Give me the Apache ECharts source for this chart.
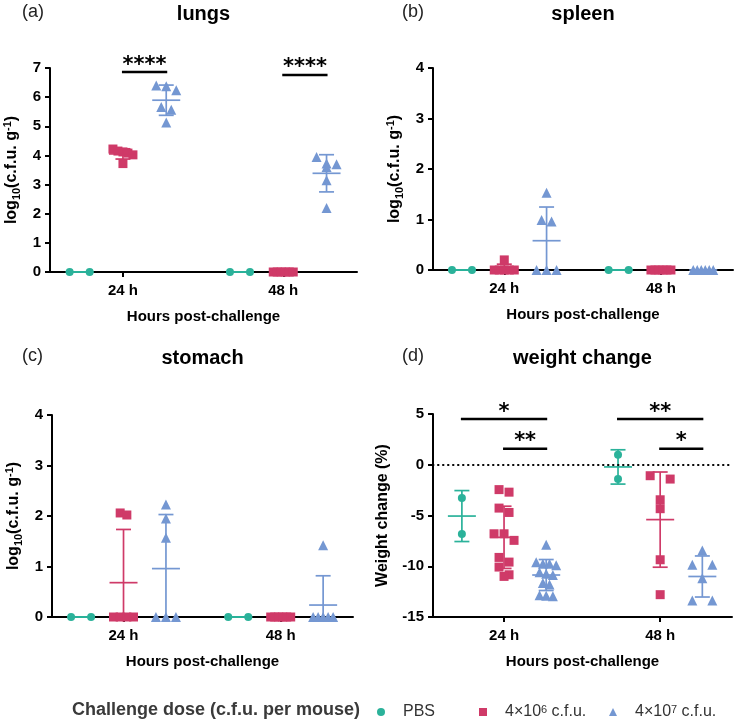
<!DOCTYPE html>
<html><head><meta charset="utf-8">
<script src="https://cdn.jsdelivr.net/npm/echarts@6/dist/echarts.min.js"></script>
<style>html,body{margin:0;padding:0;background:#fff}#c{width:735px;height:719px}</style>
</head><body><div id="c"></div>
<script>
// ---------- data ----------
const timePoints = ['24 h', '48 h'];
const groupNames = ['PBS', '4×10^6 c.f.u.', '4×10^7 c.f.u.'];

// lungs, log10(c.f.u. g-1)
const lungsPBS24 = [0, 0];
const lungsPBS48 = [0, 0];
const lungsLow24 = [4.22, 4.12, 4.08, 4.15, 4.02, 3.72];
const lungsLow48 = [0, 0, 0, 0, 0, 0];
const lungsHigh24 = [6.37, 6.40, 6.24, 5.66, 5.57, 5.13];
const lungsHigh48 = [3.95, 3.72, 3.70, 3.60, 3.15, 2.20];

// spleen
const spleenPBS24 = [0, 0];
const spleenPBS48 = [0, 0];
const spleenLow24 = [0.20, 0, 0, 0, 0, 0];
const spleenLow48 = [0, 0, 0, 0, 0, 0];
const spleenHigh24 = [1.53, 0.99, 0.96, 0, 0, 0];
const spleenHigh48 = [0, 0, 0, 0, 0, 0];

// stomach
const stomachPBS24 = [0, 0];
const stomachPBS48 = [0, 0];
const stomachLow24 = [2.02, 2.06, 0, 0, 0, 0];
const stomachLow48 = [0, 0, 0, 0, 0, 0];
const stomachHigh24 = [2.23, 1.95, 1.57, 0, 0, 0];
const stomachHigh48 = [1.42, 0, 0, 0, 0, 0];

// weight change (%)
const weightPBS24 = [-3.28, -6.83];
const weightPBS48 = [0.98, -1.41];
const weightLow24 = [-2.70, -2.45, -4.27, -4.70, -6.80, -6.80, -7.45, -9.13, -9.59, -10.08, -11.00, -10.84];
const weightLow48 = [-1.41, -1.08, -3.45, -4.33, -9.36, -12.80];
const weightHigh24 = [-7.88, -9.60, -9.75, -9.75, -9.90, -10.60, -10.75, -10.85, -11.65, -11.80, -12.85, -12.95, -12.90];
const weightHigh48 = [-8.44, -9.85, -9.85, -11.17, -13.37, -13.37];

// significance: [time index, from group, to group, bar level, label]
const lungsSig = [[0, 1, 2, 6.86, '****'], [1, 1, 2, 6.76, '****']];
const weightSig = [[0, 0, 2, 4.5, '*'], [0, 1, 2, 1.58, '**'], [1, 0, 2, 4.5, '**'], [1, 1, 2, 1.58, '*']];

// ---------- layout / style ----------
const colors = ['#2bb29a', '#cf3a68', '#7497d2'];
const symbols = ['circle', 'rect', 'triangle'];
const symSizes = [8, 9, 10];
const groupOffset = [-0.27, 0, 0.27];
const XMIN = 0.545, XMAX = 2.46;
const FONT = '"Liberation Sans", Arial, Helvetica, sans-serif';

const panels = [
  { key: 'lungs', title: 'lungs', letter: '(a)', grid: { left: 50, top: 68, width: 307, height: 204 },
    y: [0, 7, 1], yName: 'log', sig: lungsSig,
    data: [[lungsPBS24, lungsPBS48], [lungsLow24, lungsLow48], [lungsHigh24, lungsHigh48]] },
  { key: 'spleen', title: 'spleen', letter: '(b)', grid: { left: 433, top: 68, width: 300, height: 202 },
    y: [0, 4, 1], yName: 'log', sig: [],
    data: [[spleenPBS24, spleenPBS48], [spleenLow24, spleenLow48], [spleenHigh24, spleenHigh48]] },
  { key: 'stomach', title: 'stomach', letter: '(c)', grid: { left: 52, top: 415, width: 301, height: 202 },
    y: [0, 4, 1], yName: 'log', sig: [],
    data: [[stomachPBS24, stomachPBS48], [stomachLow24, stomachLow48], [stomachHigh24, stomachHigh48]] },
  { key: 'weight', title: 'weight change', letter: '(d)', grid: { left: 433, top: 414, width: 299, height: 203 },
    y: [-15, 5, 5], yName: 'weight', sig: weightSig,
    data: [[weightPBS24, weightPBS48], [weightLow24, weightLow48], [weightHigh24, weightHigh48]] }
];

function swarm(vals, cx, pyu, pxu) {
  const sorted = vals.slice().sort((a, b) => b - a);
  const rows = []; let cur = null;
  for (const v of sorted) {
    if (cur && (cur[0] - v) * pyu < 8.5) cur.push(v);
    else { cur = [v]; rows.push(cur); }
  }
  const maxK = Math.max(...rows.map(r => r.length));
  const d = maxK > 1 ? 20 / (maxK - 1) : 0;
  const pts = [];
  rows.forEach(r => r.forEach((v, i) => pts.push([cx + (i - (r.length - 1) / 2) * d / pxu, v])));
  return pts;
}
function meanSd(vals) {
  const n = vals.length; const m = vals.reduce((a, b) => a + b, 0) / n;
  const sd = n > 1 ? Math.sqrt(vals.reduce((a, b) => a + (b - m) * (b - m), 0) / (n - 1)) : 0;
  return [m, sd];
}

const axisLineStyle = { color: '#000', width: 2 };
const grids = [], xAxes = [], yAxes = [], series = [], graphics = [];

const logName = '{b|log}{s|10}{b|(c.f.u. g}{p|-1}{b|)}';
const nameRich = {
  b: { fontSize: 16, fontWeight: 'bold', fontFamily: FONT, color: '#000', lineHeight: 20 },
  s: { fontSize: 11, fontWeight: 'bold', fontFamily: FONT, color: '#000', lineHeight: 20, verticalAlign: 'bottom' },
  p: { fontSize: 11, fontWeight: 'bold', fontFamily: FONT, color: '#000', lineHeight: 20, verticalAlign: 'top' }
};

panels.forEach((p, pi) => {
  grids.push(p.grid);
  const pxu = p.grid.width / (XMAX - XMIN);
  const pyu = p.grid.height / (p.y[1] - p.y[0]);
  const yLo = p.y[0], yHi = p.y[1];
  xAxes.push({
    gridIndex: pi, type: 'value', min: XMIN, max: XMAX,
    name: 'Hours post-challenge', nameLocation: 'middle', nameGap: 37,
    nameTextStyle: { fontSize: 15, fontWeight: 'bold', fontFamily: FONT, color: '#000' },
    axisLine: { onZero: false, lineStyle: axisLineStyle },
    axisTick: { customValues: [1, 2], length: 5, lineStyle: { color: '#000', width: 2 } },
    axisLabel: { customValues: [1, 2], margin: 11, fontSize: 15, fontWeight: 'bold', fontFamily: FONT, color: '#000',
      formatter: v => timePoints[Math.round(v) - 1] },
    splitLine: { show: false }
  });
  yAxes.push({
    gridIndex: pi, type: 'value', min: p.y[0], max: p.y[1], interval: p.y[2],
    name: p.yName === 'log' ? logName : 'Weight change (%)', nameLocation: 'middle',
    nameGap: p.yName === 'log' ? 28 : 42,
    nameTextStyle: { fontSize: 16, fontWeight: 'bold', fontFamily: FONT, color: '#000', rich: nameRich },
    axisLine: { show: true, onZero: false, lineStyle: axisLineStyle },
    axisTick: { show: true, length: 5, lineStyle: { color: '#000', width: 2 } },
    axisLabel: { margin: 9, fontSize: 15, fontWeight: 'bold', fontFamily: FONT, color: '#000' },
    splitLine: { show: false }
  });
  p.data.forEach((byTime, gi) => {
    let pts = [];
    const errs = [];
    byTime.forEach((vals, ti) => {
      const cx = ti + 1 + groupOffset[gi];
      pts = pts.concat(swarm(vals, cx, pyu, pxu));
      const ms = meanSd(vals);
      errs.push([cx, ms[0], ms[1]]);
    });
    series.push({
      type: 'scatter', name: groupNames[gi], xAxisIndex: pi, yAxisIndex: pi,
      symbol: symbols[gi], symbolSize: symSizes[gi], data: pts, clip: false,
      itemStyle: { color: colors[gi], opacity: 1 }, z: 2, silent: true
    });
    series.push({
      type: 'custom', name: groupNames[gi], xAxisIndex: pi, yAxisIndex: pi, data: errs, z: 3, silent: true,
      itemStyle: { color: colors[gi] }, encode: { x: 0, y: 1 },
      renderItem: (params, api) => {
        const x = api.value(0), m = api.value(1), s = api.value(2);
        const lo = Math.max(m - s, yLo), hi = Math.min(m + s, yHi);
        const c = api.coord([x, m]), t = api.coord([x, hi]), b = api.coord([x, lo]);
        const st = { stroke: colors[gi], lineWidth: 1.7 };
        const kids = [
          { type: 'line', shape: { x1: c[0] - 14, y1: c[1], x2: c[0] + 14, y2: c[1] }, style: st },
          { type: 'line', shape: { x1: t[0], y1: t[1], x2: b[0], y2: b[1] }, style: st },
          { type: 'line', shape: { x1: t[0] - 7.5, y1: t[1], x2: t[0] + 7.5, y2: t[1] }, style: st }
        ];
        if (m - s >= yLo) kids.push({ type: 'line', shape: { x1: b[0] - 7.5, y1: b[1], x2: b[0] + 7.5, y2: b[1] }, style: st });
        return { type: 'group', children: kids };
      }
    });
  });
  if (p.key === 'weight') {
    series.push({
      type: 'line', xAxisIndex: pi, yAxisIndex: pi, data: [], silent: true,
      markLine: { symbol: 'none', silent: true, label: { show: false },
        lineStyle: { color: '#000', width: 2, type: [0.5, 4.5], cap: 'round' },
        data: [{ yAxis: 0 }] }
    });
  }
  if (p.sig.length) {
    series.push({
      type: 'custom', xAxisIndex: pi, yAxisIndex: pi, silent: true, z: 4,
      data: p.sig.map(s => [s[0] + 1 + groupOffset[s[1]], s[0] + 1 + groupOffset[s[2]], s[3]]),
      encode: { x: [0, 1], y: 2 },
      renderItem: (params, api) => {
        const s = p.sig[params.dataIndex];
        const a = api.coord([api.value(0), api.value(2)]), b = api.coord([api.value(1), api.value(2)]);
        return { type: 'group', children: [
          { type: 'line', shape: { x1: a[0] - 1, y1: a[1], x2: b[0] + 1, y2: b[1] }, style: { stroke: '#000', lineWidth: 2.5 } },
          { type: 'text', x: (a[0] + b[0]) / 2, y: a[1] - 7,
            style: { text: s[4], fill: '#000', font: 'bold 21px "DejaVu Sans", sans-serif', align: 'center', verticalAlign: 'middle' } }
        ] };
      }
    });
  }
  const cxTitle = p.grid.left + p.grid.width / 2;
  const ty = p.grid.top < 200 ? 14 : 358;
  graphics.push({ type: 'text', x: cxTitle, y: ty,
    style: { text: p.title, fill: '#000', font: 'bold 20px ' + FONT, align: 'center', verticalAlign: 'middle' } });
  graphics.push({ type: 'text', x: p.grid.left < 100 ? 22 : 402, y: ty - 2,
    style: { text: p.letter, fill: '#222', font: '18px ' + FONT, align: 'left', verticalAlign: 'middle' } });
});

graphics.push({ type: 'text', x: 72, y: 710,
  style: { text: 'Challenge dose (c.f.u. per mouse)', fill: '#3a3a3a', font: 'bold 18px ' + FONT, align: 'left', verticalAlign: 'middle' } });

const legRich = {
  n: { fontSize: 16, fontFamily: FONT, color: '#333' },
  s: { fontSize: 11, fontFamily: FONT, color: '#333', verticalAlign: 'top', lineHeight: 16 }
};
function legFmt(name) {
  if (name === 'PBS') return '{n|PBS}';
  const parts = name.split('^');
  const exp = parts[1].split(' ')[0];
  return '{n|' + parts[0] + '}{s|' + exp + '}{n| c.f.u.}';
}
const legendLefts = [377, 479, 609];
const legends = groupNames.map((g, i) => ({
  data: [{ name: g, icon: symbols[i] }],
  left: legendLefts[i], top: 704, padding: 0, itemWidth: 8, itemHeight: 8, selectedMode: false,
  formatter: legFmt,
  textStyle: { fontSize: 16, fontFamily: FONT, color: '#333', padding: [0, 0, 0, 13], rich: legRich }
}));

const chart = echarts.init(document.getElementById('c'), null, { renderer: 'canvas' });
chart.setOption({
  backgroundColor: '#fff', animation: false,
  grid: grids, xAxis: xAxes, yAxis: yAxes, series: series, legend: legends, graphic: graphics
});
</script></body></html>
